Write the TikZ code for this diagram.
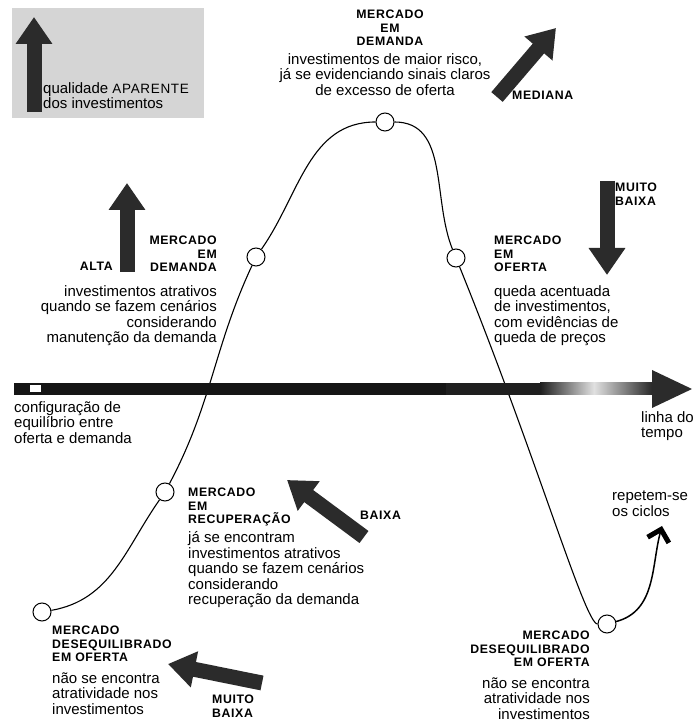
\documentclass[tikz,border=0pt]{standalone}
\usepackage{fontspec}
\setmainfont{Liberation Sans}
\newfontfamily\capsfont[LetterSpace=5]{Liberation Sans}
\usepackage{xcolor}
\usepackage{tikz}
\usetikzlibrary{arrows.meta, positioning}
\definecolor{legendgray}{HTML}{D5D5D5}
\definecolor{arrowgray}{HTML}{2B2B2B}
\definecolor{barblack}{HTML}{151515}
\tikzset{
  statelabel/.style={inner sep=0pt, font=\capsfont\fontsize{12.3}{13.5}\selectfont\bfseries},
  desc/.style={inner sep=0pt, font=\fontsize{15}{15.5}\selectfont},
  marker/.style={circle, draw=black, fill=white, line width=1pt, minimum size=18pt, inner sep=0pt},
  curveline/.style={line width=1.1pt},
  bigarrow/.style={line width=15pt, draw=arrowgray, -{Triangle[width=35pt, length=27pt]}},
  endarrow/.style={line width=1.5pt, -{Straight Barb[length=11pt, width=22pt, line width=5pt]}}
}
\begin{document}
\begin{tikzpicture}[x=1pt, y=1pt]
\useasboundingbox (0,0) rectangle (696,726);

% Legend
\fill [legendgray] (12,608) rectangle (204,718);
\coordinate (legTail) at (34,614);
\coordinate (legTip) at (34,709);
\draw [bigarrow] (legTail) -- (legTip);
\node (legText) [desc, anchor=north west, align=left] at (43,644) {qualidade {\capsfont\fontsize{13.5}{15.5}\selectfont APARENTE}\\dos investimentos};

% Markers on the cycle
\node (c1) [marker] at (42,114) {};
\node (c2) [marker] at (165,234) {};
\node (c3) [marker] at (256,469) {};
\node (c4) [marker] at (385,604) {};
\node (c5) [marker] at (456,468) {};
\node (c6) [marker] at (607,102) {};
\coordinate (cycleEnd) at (662,200);

% Cycle curve
\draw [curveline] (c1) to[out=10, in=235] (c2);
\draw [curveline] (c2) to[out=62, in=245] (c3);
\draw [curveline] (c3) to[out=55, in=180] (c4);
\draw [curveline] (c4) to[out=0, in=112] (c5);
\draw [curveline] (c5) .. controls (537,268) and (585,102) .. (c6);
\draw [endarrow] (c6) to[out=15, in=255] (cycleEnd);

% Time line
\fill [barblack] (14,331) rectangle (446,343);
\fill [black!88] (446,331) rectangle (540,343);
\shade [left color=black!88, right color=black!12] (540,331) rectangle (594,343);
\shade [left color=black!12, right color=black!85] (594,331) rectangle (653,343);
\fill [arrowgray] (652,356) -- (692,337) -- (652,318) -- cycle;
\fill [white] (30,334) rectangle (41,341);
\node (equil) [desc, anchor=north west, align=left] at (14,325) {configuração de\\equilíbrio entre\\oferta e demanda};
\node (timeLbl) [desc, anchor=north west, align=left] at (641,315) {linha do\\tempo};

% Top: demanda
\node (topState) [statelabel, anchor=north, align=center] at (390,716) {MERCADO\\EM\\DEMANDA};
\node (topDesc) [desc, align=center, below=7pt of topState, xshift=-5pt] {investimentos de maior risco,\\já se evidenciando sinais claros\\de excesso de oferta};
\coordinate (medTail) at (497,629);
\coordinate (medTip) at (556,698);
\draw [bigarrow] (medTail) -- (medTip);
\node (medLbl) [statelabel, anchor=west] at (512,631) {MEDIANA};

% Left: demanda
\node (leftState) [statelabel, anchor=north east, align=right] at (217,490) {MERCADO\\EM\\DEMANDA};
\node (leftDesc) [desc, align=right, below=13pt of leftState.south east, anchor=north east] {investimentos atrativos\\quando se fazem cenários\\considerando\\manutenção da demanda};
\coordinate (altaTail) at (127,454);
\coordinate (altaTip) at (127,543);
\draw [bigarrow] (altaTail) -- (altaTip);
\node (altaLbl) [statelabel, anchor=east] at (113,460) {ALTA};

% Right: oferta
\node (rightState) [statelabel, anchor=north west, align=left] at (494,490) {MERCADO\\EM\\OFERTA};
\node (rightDesc) [desc, align=left, below=13pt of rightState.south west, anchor=north west] {queda acentuada\\de investimentos,\\com evidências de\\queda de preços};
\coordinate (mbTail) at (607,545);
\coordinate (mbTip) at (607,451);
\draw [bigarrow] (mbTail) -- (mbTip);
\node (mbLbl) [statelabel, anchor=north west, align=left] at (615,543) {MUITO\\BAIXA};

% Middle: recuperacao
\node (midState) [statelabel, anchor=north west, align=left] at (188,238) {MERCADO\\EM\\RECUPERAÇÃO};
\node (midDesc) [desc, align=left, below=5pt of midState.south west, anchor=north west] {já se encontram\\investimentos atrativos\\quando se fazem cenários\\considerando\\recuperação da demanda};
\coordinate (bxTail) at (364,189);
\coordinate (bxTip) at (287,246);
\draw [bigarrow] (bxTail) -- (bxTip);
\node (bxLbl) [statelabel, anchor=west] at (360,211) {BAIXA};

% Bottom left: desequilibrado
\node (blState) [statelabel, anchor=north west, align=left] at (52,100) {MERCADO\\DESEQUILIBRADO\\EM OFERTA};
\node (blDesc) [desc, align=left, below=10pt of blState.south west, anchor=north west] {não se encontra\\atratividade nos\\investimentos};
\coordinate (blTail) at (262,43);
\coordinate (blTip) at (168,62);
\draw [bigarrow] (blTail) -- (blTip);
\node (blLbl) [statelabel, anchor=north west, align=left] at (212,31) {MUITO\\BAIXA};

% Bottom right: desequilibrado
\node (brState) [statelabel, anchor=north east, align=right] at (590,95) {MERCADO\\DESEQUILIBRADO\\EM OFERTA};
\node (brDesc) [desc, align=right, below=10pt of brState.south east, anchor=north east] {não se encontra\\atratividade nos\\investimentos};
\node (repeatLbl) [desc, anchor=north west, align=left] at (612,235) {repetem-se\\os ciclos};

\end{tikzpicture}
\end{document}
